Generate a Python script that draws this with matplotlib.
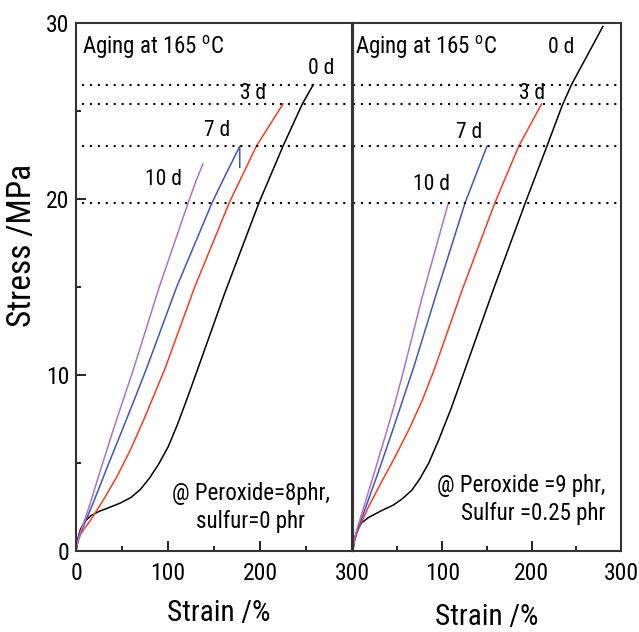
import matplotlib
matplotlib.use('Agg')
import matplotlib.pyplot as plt
from matplotlib import font_manager

# the lettering in the original is condensed, use a narrow face when there is one
names = set(f.name for f in font_manager.fontManager.ttflist)
font = 'Liberation Sans'
for cand in ['Roboto Condensed', 'Liberation Sans Narrow', 'Arial Narrow', 'Open Sans Condensed']:
    if cand in names:
        font = cand
        break
plt.rcParams['font.family'] = [font, 'DejaVu Sans']
plt.rcParams['mathtext.fontset'] = 'custom'
plt.rcParams['mathtext.rm'] = font

# ---- data (strain %, stress MPa) ----
days = ['0 d', '3 d', '7 d', '10 d']
colors = ['black', '#ff3a1e', '#3b55c6', '#b070c8']

# left panel: peroxide 8 phr, sulfur 0 phr
left_x = [
    [0, 2, 5, 10, 16, 25, 35, 48, 60, 70, 80, 90, 100, 110, 120, 130, 162, 199, 225, 246, 258],
    [0, 2, 5, 10, 15.2, 29.7, 44.2, 58.7, 73.2, 85.9, 97, 129, 166.7, 196, 225],
    [0, 2, 5, 10, 18.8, 35, 51.2, 65.7, 78.3, 109.4, 148, 160, 178, 178],
    [0, 2, 5, 10, 16, 26, 40.6, 53.3, 62.3, 90.5, 122, 131, 138],
]
left_y = [
    [0, 0.7, 1.25, 1.7, 2.0, 2.25, 2.45, 2.72, 3.05, 3.5, 4.15, 4.95, 5.9, 7.15, 8.55, 10.0, 14.7, 19.8, 23, 25.4, 26.5],
    [0, 0.5, 0.95, 1.35, 1.7, 2.9, 4.2, 5.7, 7.4, 9.0, 10.4, 15, 19.8, 23, 25.4],
    [0, 0.6, 1.05, 1.65, 2.75, 4.9, 7.0, 8.9, 10.6, 15, 19.8, 21.1, 23.0, 21.8],
    [0, 0.55, 1.1, 1.85, 2.8, 4.5, 6.9, 8.9, 10.3, 15, 19.8, 21.1, 22.0],
]

# right panel: peroxide 9 phr, sulfur 0.25 phr
right_x = [
    [0, 2, 5, 10, 17.5, 32.5, 45, 55, 66, 75, 85, 96, 110, 124, 157.5, 193, 217, 234, 244.5, 279.5],
    [0, 2, 5, 10, 17.5, 32.5, 47.4, 62.3, 77.2, 90.3, 122.8, 159, 185.5, 211],
    [0, 2, 5, 10, 17.5, 28.7, 43.6, 56.7, 67.9, 94, 125.7, 150],
    [0, 2, 5, 10, 16, 25, 36.2, 47.4, 55.6, 78, 107],
]
right_y = [
    [0, 0.7, 1.2, 1.6, 1.9, 2.3, 2.6, 2.95, 3.45, 4.1, 5.0, 6.3, 8.1, 10.1, 14.9, 19.8, 23, 25.3, 26.5, 29.8],
    [0, 0.55, 1.05, 1.65, 2.5, 3.95, 5.35, 6.85, 8.5, 10.2, 14.9, 19.8, 23, 25.4],
    [0, 0.6, 1.15, 1.85, 2.9, 4.5, 6.7, 8.7, 10.4, 14.7, 19.8, 23.0],
    [0, 0.65, 1.3, 2.1, 3.1, 4.6, 6.5, 8.45, 10.0, 14.5, 19.8],
]

break_levels = [26.5, 25.4, 23.0, 19.8]   # dotted reference lines
x_ticks = [0, 100, 200, 300]

# day tag positions (strain, stress)
left_tags = [(266, 27.4), (192, 26.0), (153, 23.9), (95, 21.1)]
right_tags = [(233, 28.6), (200, 26.0), (130, 23.75), (88, 20.8)]

W, H = 639, 632
fig = plt.figure(figsize=(W / 100, H / 100), dpi=100)
axL = fig.add_axes([76 / W, 1 - 551 / H, 276 / W, 528 / H])
axR = fig.add_axes([352.7 / W, 1 - 551 / H, 268.5 / W, 528 / H])

fs = 16.5
for ax, xs, ys, tags in [(axL, left_x, left_y, left_tags), (axR, right_x, right_y, right_tags)]:
    for x, y, c in zip(xs, ys, colors):
        ax.plot(x, y, color=c, lw=1.1, solid_joinstyle='round')
    for lev in break_levels:
        ax.hlines(lev, 6 if ax is axL else 0, 300, colors='black',
                  linestyles=(0, (1, 2.8)), lw=1.5)
    for (tx, ty), d in zip(tags, days):
        ax.text(tx, ty, d, fontsize=15.5, ha='center', va='center')
    ax.text(0.022 if ax is axL else 0.009, 0.953, 'Aging at 165 $^{\\mathrm{o}}$C',
            transform=ax.transAxes, fontsize=fs, ha='left', va='center')
    ax.set_xlim(0, 300)
    ax.set_ylim(0, 30)
    ax.set_xticks(x_ticks)
    ax.set_xticks([50, 150, 250], minor=True)
    ax.tick_params(axis='both', which='major', direction='in', length=7, width=1.2,
                   labelsize=17)
    ax.tick_params(axis='x', which='major', pad=8)
    ax.tick_params(axis='y', which='major', pad=5)
    ax.tick_params(axis='both', which='minor', direction='in', length=3.5, width=1.2)
    for s in ax.spines.values():
        s.set_linewidth(1.5)
        s.set_color('#333333')
    ax.set_xlabel('Strain /%', fontsize=21, va='center')

axL.xaxis.set_label_coords(0.518, -0.117)
axR.xaxis.set_label_coords(0.5, -0.125)

axL.set_yticks([0, 10, 20, 30])
axL.set_yticks([5, 15, 25], minor=True)
axL.set_xticklabels([str(v) for v in x_ticks])
axL.set_ylabel('Stress /MPa', fontsize=24, va='center')
axL.yaxis.set_label_coords(-0.196, 0.578)
axR.set_yticks([])
axR.set_xticklabels([''] + [str(v) for v in x_ticks[1:]])

axL.text(0.634, 0.082, '@ Peroxide=8phr,\nsulfur=0 phr', transform=axL.transAxes,
         fontsize=fs, ha='center', va='center', linespacing=1.3)
axR.text(0.94, 0.097, '@ Peroxide =9 phr,\nSulfur =0.25 phr', transform=axR.transAxes,
         fontsize=fs, ha='right', va='center', linespacing=1.3, multialignment='right')

fig.savefig('out.png', dpi=100)
